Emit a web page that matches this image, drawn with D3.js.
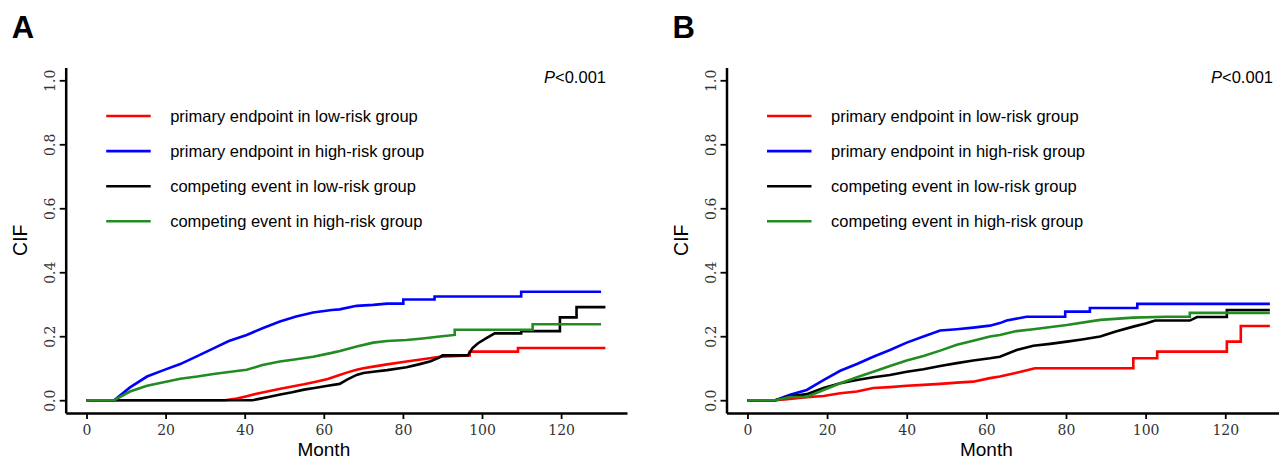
<!DOCTYPE html>
<html>
<head>
<meta charset="utf-8">
<script src="https://cdn.jsdelivr.net/npm/d3@7"></script>
<style>
  body { margin: 0; background: #fff; }
  svg { display: block; }
</style>
</head>
<body>
<div id="graph"></div>
<script>
let width = 1279;
let height = 460;

// legend / series names
let seriesNames = ["primary endpoint in low-risk group", "primary endpoint in high-risk group",
                   "competing event in low-risk group", "competing event in high-risk group"];
let seriesColors = ["#ff0000", "#0000ff", "#000000", "#228b22"];
let monthTicks = [0, 20, 40, 60, 80, 100, 120];
let cifTicks = [0, 0.2, 0.4, 0.6, 0.8, 1.0];

// panel A
let aRedMonth = [0, 35, 38, 40, 43, 46, 49, 52, 55, 58, 61, 64, 66, 68.3, 70, 72.5, 76, 80.9, 85, 89.3, 96.9, 96.9, 100, 109.1, 109.1, 131.2];
let aRedCif   = [0, 0, 0.005, 0.011, 0.02, 0.028, 0.036, 0.043, 0.05, 0.058, 0.066, 0.079, 0.087, 0.095, 0.1, 0.105, 0.112, 0.121, 0.128, 0.136, 0.14, 0.152, 0.152, 0.152, 0.163, 0.163];
let aBlueMonth = [0, 7, 11, 15.3, 19.5, 23.7, 28, 32.1, 36, 40.5, 44.5, 48.9, 53, 57.3, 62, 64, 68.3, 72.5, 76, 80.1, 80.1, 88, 88, 109.9, 109.9, 130.1];
let aBlueCif   = [0, 0, 0.04, 0.074, 0.094, 0.113, 0.138, 0.162, 0.185, 0.204, 0.225, 0.246, 0.262, 0.274, 0.282, 0.284, 0.295, 0.298, 0.302, 0.302, 0.315, 0.315, 0.324, 0.324, 0.339, 0.339];
let aBlackMonth = [0, 42, 44, 46, 49, 52, 55, 58, 61, 64, 66, 68.3, 70, 72.5, 76, 80.9, 84, 87, 89.3, 90, 96.4, 97.6, 99, 101, 103.2, 109.9, 109.9, 119.7, 119.7, 123.9, 123.9, 131.2];
let aBlackCif   = [0, 0, 0.005, 0.01, 0.018, 0.025, 0.033, 0.039, 0.045, 0.051, 0.065, 0.079, 0.085, 0.089, 0.094, 0.103, 0.112, 0.122, 0.134, 0.14, 0.14, 0.163, 0.178, 0.193, 0.209, 0.209, 0.216, 0.216, 0.259, 0.259, 0.291, 0.291];
let aGreenMonth = [0, 7, 11, 15.3, 19.5, 23.7, 28, 32.1, 36, 40.5, 44.5, 48.9, 53, 57.3, 62, 64.1, 68.3, 72.5, 76, 80.9, 85, 89.3, 93.1, 93.1, 112.8, 112.8, 130.1];
let aGreenCif   = [0, 0, 0.027, 0.045, 0.056, 0.067, 0.074, 0.082, 0.088, 0.095, 0.11, 0.121, 0.128, 0.136, 0.148, 0.154, 0.168, 0.18, 0.185, 0.188, 0.193, 0.199, 0.204, 0.22, 0.22, 0.2375, 0.2375];

// panel B
let bRedMonth = [0, 7, 10, 14.9, 19.1, 23.3, 27.5, 31.6, 35.8, 40, 44.2, 48.4, 52.6, 56.7, 60.9, 63.4, 67.6, 72.2, 96.9, 96.9, 102.9, 102.9, 120.4, 120.4, 123.9, 123.9, 131.2];
let bRedCif   = [0, 0, 0.003, 0.009, 0.013, 0.022, 0.027, 0.038, 0.041, 0.045, 0.048, 0.051, 0.055, 0.058, 0.069, 0.074, 0.086, 0.1, 0.1, 0.131, 0.131, 0.152, 0.152, 0.183, 0.183, 0.232, 0.232];
let bBlueMonth = [0, 7, 10.7, 14.9, 19.1, 23.3, 27.5, 31.6, 35.8, 40, 44.2, 48.4, 52.6, 56.7, 60.9, 63.4, 65.1, 70.1, 79.8, 79.8, 86, 86, 97.9, 97.9, 131.2];
let bBlueCif   = [0, 0, 0.017, 0.032, 0.063, 0.092, 0.113, 0.136, 0.157, 0.18, 0.199, 0.218, 0.222, 0.227, 0.233, 0.241, 0.249, 0.261, 0.261, 0.277, 0.277, 0.288, 0.288, 0.301, 0.301];
let bBlackMonth = [0, 7, 10.7, 14.9, 19.1, 23.3, 27.5, 31.6, 35.8, 40, 44.2, 48.4, 52.6, 56.7, 60.9, 63.4, 67.6, 71.8, 76, 80.2, 84, 88.6, 92.5, 96.9, 100, 102.4, 111.1, 112.9, 120.4, 120.4, 131.2];
let bBlackCif   = [0, 0, 0.012, 0.019, 0.038, 0.053, 0.063, 0.072, 0.079, 0.089, 0.097, 0.107, 0.116, 0.124, 0.131, 0.136, 0.157, 0.17, 0.176, 0.183, 0.19, 0.199, 0.215, 0.23, 0.24, 0.249, 0.249, 0.26, 0.26, 0.282, 0.282];
let bGreenMonth = [0, 7, 10.7, 14.9, 19.1, 23.3, 27.5, 31.6, 35.8, 40, 44.2, 48.4, 52.6, 56.7, 60.9, 63.4, 67.6, 71.8, 80.2, 88.6, 96.9, 105.3, 111.1, 111.1, 131.2];
let bGreenCif   = [0, 0, 0.01, 0.01, 0.032, 0.053, 0.072, 0.089, 0.107, 0.124, 0.138, 0.155, 0.173, 0.186, 0.199, 0.204, 0.216, 0.222, 0.235, 0.251, 0.258, 0.261, 0.261, 0.273, 0.273];

let panels = [
  { label: "A", left: 65.7, right: 627, pRight: 606,
    series: [[aRedMonth, aRedCif], [aBlueMonth, aBlueCif], [aBlackMonth, aBlackCif], [aGreenMonth, aGreenCif]] },
  { label: "B", left: 726.5, right: 1291.6, pRight: 1273,
    series: [[bRedMonth, bRedCif], [bBlueMonth, bBlueCif], [bBlackMonth, bBlackCif], [bGreenMonth, bGreenCif]] }
];

let plotTop = 67.5, plotBottom = 413;
let sans = "'Liberation Sans', Arial, sans-serif";
let serif = "'DejaVu Serif', serif";

let svg = d3.select('#graph')
    .append('svg')
        .attr('width', width)
        .attr('height', height)
        .style('background', '#fff');

let y = d3.scaleLinear().domain([-0.04, 1.04]).range([plotBottom, plotTop]);

panels.forEach(function(p) {
    let x = d3.scaleLinear().domain([-5.26, 136.66]).range([p.left, p.right]);
    let g = svg.append('g');

    // panel letter
    g.append('text')
        .attr('x', p.left - 54)
        .attr('y', 38)
        .style('font-family', sans)
        .style('font-weight', 'bold')
        .style('font-size', '31px')
        .text(p.label);

    // x axis
    let xAxis = d3.axisBottom(x).tickValues(monthTicks).tickSize(6).tickSizeOuter(0)
        .tickFormat(d3.format('d'));
    let gx = g.append('g')
        .attr('transform', 'translate(0,' + plotBottom + ')')
        .call(xAxis);
    gx.attr('font-family', serif).attr('font-size', 14);
    gx.select('.domain').attr('stroke-width', 2.5);
    gx.selectAll('.tick line').attr('stroke-width', 1.8);
    gx.selectAll('.tick text')
        .attr('y', 21.5).attr('dy', 0)
        .attr('fill', '#333');

    // y axis
    let yAxis = d3.axisLeft(y).tickValues(cifTicks).tickSize(6).tickSizeOuter(0)
        .tickFormat(d3.format('.1f'));
    let gy = g.append('g')
        .attr('transform', 'translate(' + p.left + ',0)')
        .call(yAxis);
    gy.attr('font-family', serif).attr('font-size', 14);
    gy.select('.domain').attr('stroke-width', 2.5);
    gy.selectAll('.tick line').attr('stroke-width', 1.8);
    gy.selectAll('.tick text')
        .attr('x', 0).attr('dy', 0)
        .attr('text-anchor', 'middle')
        .attr('transform', 'translate(-11,0) rotate(-90)')
        .attr('fill', '#333');

    // axis titles
    g.append('text')
        .attr('x', x(60))
        .attr('y', 456)
        .attr('text-anchor', 'middle')
        .style('font-family', sans).style('font-size', '19px')
        .text('Month');
    g.append('text')
        .attr('transform', 'translate(' + (p.left - 39) + ',' + ((plotTop + plotBottom) / 2) + ') rotate(-90)')
        .attr('text-anchor', 'middle')
        .style('font-family', sans).style('font-size', '19.5px')
        .text('CIF');

    // P value
    let pt = g.append('text')
        .attr('x', p.pRight).attr('y', 82.5)
        .attr('text-anchor', 'end')
        .style('font-family', sans).style('font-size', '16.5px');
    pt.append('tspan').style('font-style', 'italic').text('P');
    pt.append('tspan').text('<0.001');

    // curves
    let line = d3.line().x(d => x(d[0])).y(d => y(d[1]));
    p.series.forEach(function(s, i) {
        let pts = s[0].map((m, k) => [m, s[1][k]]);
        g.append('path')
            .attr('d', line(pts))
            .attr('fill', 'none')
            .attr('stroke', seriesColors[i])
            .attr('stroke-width', 2.6);
    });

    // legend
    seriesNames.forEach(function(name, i) {
        let ly = 116 + i * 35.1;
        g.append('line')
            .attr('x1', p.left + 40.5).attr('x2', p.left + 85)
            .attr('y1', ly).attr('y2', ly)
            .attr('stroke', seriesColors[i])
            .attr('stroke-width', 2.6);
        g.append('text')
            .attr('x', p.left + 104.5).attr('y', ly + 5.8)
            .style('font-family', sans).style('font-size', '16.5px')
            .text(name);
    });
});
</script>
</body>
</html>
